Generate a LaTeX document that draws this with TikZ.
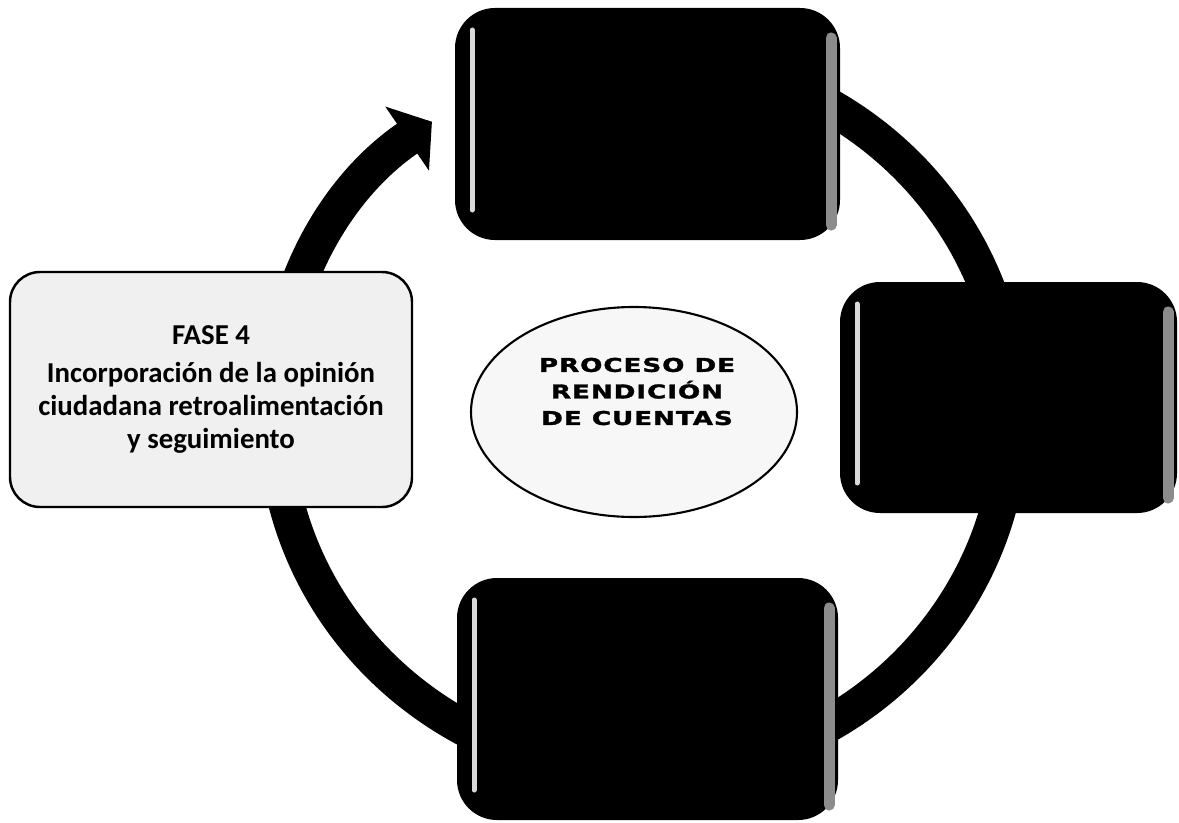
\documentclass[tikz,border=0pt]{standalone}
\usepackage{fontspec}
\newfontfamily\fasefont{Carlito}
\newfontfamily\hubfont{DejaVu Sans}[FakeStretch=1.38,LetterSpace=5,BoldFeatures={FakeBold=1.6}]
\usetikzlibrary{arrows.meta,shapes.geometric}

\begin{document}
\begin{tikzpicture}[
  fase/.style={rectangle,rounded corners=.4cm,fill=black,minimum width=3.85cm,minimum height=2.32cm,outer sep=0pt,inner sep=0pt},
  glintl/.style={draw=black!15,line width=.05cm,line cap=round},
  glintr/.style={draw=black!45,line width=.11cm,line cap=round},
  ring/.style={line width=.36cm,-{Triangle[length=.3cm,width=.76cm]}}]
\useasboundingbox (0,0) rectangle (11.79,8.22);
\coordinate (c) at (6.43,4.07);
\draw[ring] ([shift={(100:3.68 and 3.58)}]c) arc[start angle=100,end angle=-235,x radius=3.68,y radius=3.58];
\node[fase] (f1) at (6.475,6.98) {};
\node[fase,minimum width=3.37cm,minimum height=2.31cm] (f2) at (10.085,4.245) {};
\node[fase,minimum width=3.81cm,minimum height=2.42cm] (f3) at (6.475,1.23) {};
\foreach \b in {f1,f2,f3}{
  \draw[glintl] ([shift={(.17,-.22)}]\b.north west) -- ([shift={(.17,.3)}]\b.south west);
  \draw[glintr] ([shift={(-.09,-.3)}]\b.north east) -- ([shift={(-.09,.15)}]\b.south east);}
\node[draw,line width=.7pt,fill=black!6,rounded corners=.3cm,minimum width=4.02cm,minimum height=2.35cm,align=center,font=\fasefont\bfseries\fontsize{8.2}{9.4}\selectfont] (f4) at (2.11,4.325) {FASE 4\\[1.5pt]Incorporación de la opinión\\ciudadana retroalimentación\\y seguimiento};
\node[ellipse,draw,line width=.6pt,fill=black!3,minimum width=3.26cm,minimum height=2.1cm] (hub) at (6.34,4.10) {};
\node[align=center,font=\hubfont\bfseries\fontsize{5.4}{7.55}\selectfont] (hubtxt) at (6.37,4.305) {PROCESO DE\\RENDICIÓN\\DE CUENTAS};
\end{tikzpicture}
\end{document}
